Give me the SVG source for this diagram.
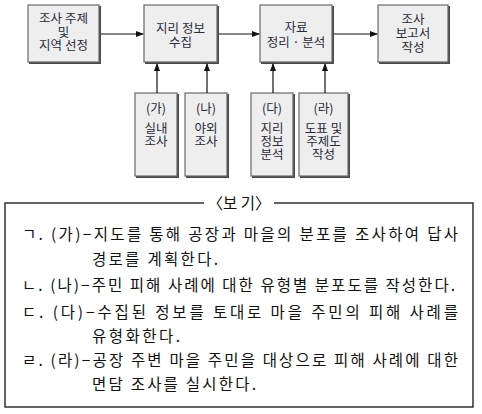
<svg xmlns="http://www.w3.org/2000/svg" width="482" height="414" viewBox="0 0 482 414">
<style>
.sh{fill:#4a4a4a}
.bx{fill:#eeeeee;stroke:#6a6a6a;stroke-width:1.2}
.t{font-family:"Noto Sans CJK KR","Noto Sans",sans-serif;font-size:12.5px;fill:#2a2a3a;text-anchor:middle}
.c{stroke:#111;stroke-width:1.2;fill:none}
.b{font-family:"Noto Sans CJK KR","Noto Sans",serif;font-size:15.5px;fill:#111}
</style>
<defs>
<marker id="ah" markerWidth="8" markerHeight="8" refX="7" refY="4" orient="auto" markerUnits="userSpaceOnUse">
<path d="M0,1 L8,4 L0,7 Z" fill="#111"/>
</marker>
</defs>
<rect width="482" height="414" fill="#fff"/>
<g id="n1"><rect class="sh" x="29" y="6" width="72" height="58"/><rect class="bx" x="28" y="5" width="71" height="57"/>
<text class="t" y="23"><tspan x="63.5">조사 주제</tspan><tspan x="63.5" dy="13.5">및</tspan><tspan x="63.5" dy="13.5">지역 선정</tspan></text></g>
<g id="n2"><rect class="sh" x="145" y="6" width="74" height="58"/><rect class="bx" x="144" y="5" width="73" height="57"/>
<text class="t" y="33"><tspan x="180.5">지리 정보</tspan><tspan x="180.5" dy="14">수집</tspan></text></g>
<g id="n3"><rect class="sh" x="261" y="6" width="73" height="58"/><rect class="bx" x="260" y="5" width="72" height="57"/>
<text class="t" y="32"><tspan x="296">자료</tspan><tspan x="296" dy="15">정리 · 분석</tspan></text></g>
<g id="n4"><rect class="sh" x="379" y="6" width="71" height="58"/><rect class="bx" x="378" y="5" width="70" height="57"/>
<text class="t" y="24"><tspan x="413">조사</tspan><tspan x="413" dy="14">보고서</tspan><tspan x="413" dy="14">작성</tspan></text></g>
<g id="na"><rect class="sh" x="136" y="94" width="43" height="84"/><rect class="bx" x="135" y="93" width="42" height="83"/>
<text class="t" y="113"><tspan x="156">(가)</tspan><tspan x="156" dy="20">실내</tspan><tspan x="156" dy="13">조사</tspan></text></g>
<g id="nb"><rect class="sh" x="186" y="94" width="43" height="84"/><rect class="bx" x="185" y="93" width="42" height="83"/>
<text class="t" y="113"><tspan x="206">(나)</tspan><tspan x="206" dy="20">야외</tspan><tspan x="206" dy="13">조사</tspan></text></g>
<g id="nc"><rect class="sh" x="252" y="94" width="43" height="84"/><rect class="bx" x="251" y="93" width="42" height="83"/>
<text class="t" y="113"><tspan x="272">(다)</tspan><tspan x="272" dy="20">지리</tspan><tspan x="272" dy="13">정보</tspan><tspan x="272" dy="13">분석</tspan></text></g>
<g id="nd"><rect class="sh" x="300" y="94" width="50" height="84"/><rect class="bx" x="299" y="93" width="49" height="83"/>
<text class="t" y="113"><tspan x="323.5">(라)</tspan><tspan x="323.5" dy="20">도표 및</tspan><tspan x="323.5" dy="13">주제도</tspan><tspan x="323.5" dy="13">작성</tspan></text></g>
<g id="connectors">
<line class="c" x1="101" y1="34" x2="143" y2="34" marker-end="url(#ah)"/>
<line class="c" x1="219" y1="34" x2="259" y2="34" marker-end="url(#ah)"/>
<line class="c" x1="334" y1="34" x2="377" y2="34" marker-end="url(#ah)"/>
<line class="c" x1="157" y1="93" x2="157" y2="64" marker-end="url(#ah)"/>
<line class="c" x1="207" y1="93" x2="207" y2="64" marker-end="url(#ah)"/>
<line class="c" x1="273" y1="93" x2="273" y2="64" marker-end="url(#ah)"/>
<line class="c" x1="325" y1="93" x2="325" y2="64" marker-end="url(#ah)"/>
</g>
<g id="bogi">
<rect x="5" y="203" width="468" height="204" fill="none" stroke="#111" stroke-width="1.3"/>
<rect x="204" y="195" width="70" height="14" fill="#fff"/>
<text class="b" x="239" y="209" text-anchor="middle">〈보 기〉</text>
<text class="b" x="22" y="240" textLength="436" lengthAdjust="spacing">ㄱ. (가)−지도를 통해 공장과 마을의 분포를 조사하여 답사</text>
<text class="b" x="92" y="265" textLength="126" lengthAdjust="spacing">경로를 계획한다.</text>
<text class="b" x="22" y="291" textLength="433" lengthAdjust="spacing">ㄴ. (나)−주민 피해 사례에 대한 유형별 분포도를 작성한다.</text>
<text class="b" x="22" y="318" textLength="436" lengthAdjust="spacing">ㄷ. (다)−수집된 정보를 토대로 마을 주민의 피해 사례를</text>
<text class="b" x="92" y="342" textLength="88" lengthAdjust="spacing">유형화한다.</text>
<text class="b" x="22" y="366" textLength="436" lengthAdjust="spacing">ㄹ. (라)−공장 주변 마을 주민을 대상으로 피해 사례에 대한</text>
<text class="b" x="92" y="390" textLength="164" lengthAdjust="spacing">면담 조사를 실시한다.</text>
</g>
</svg>
